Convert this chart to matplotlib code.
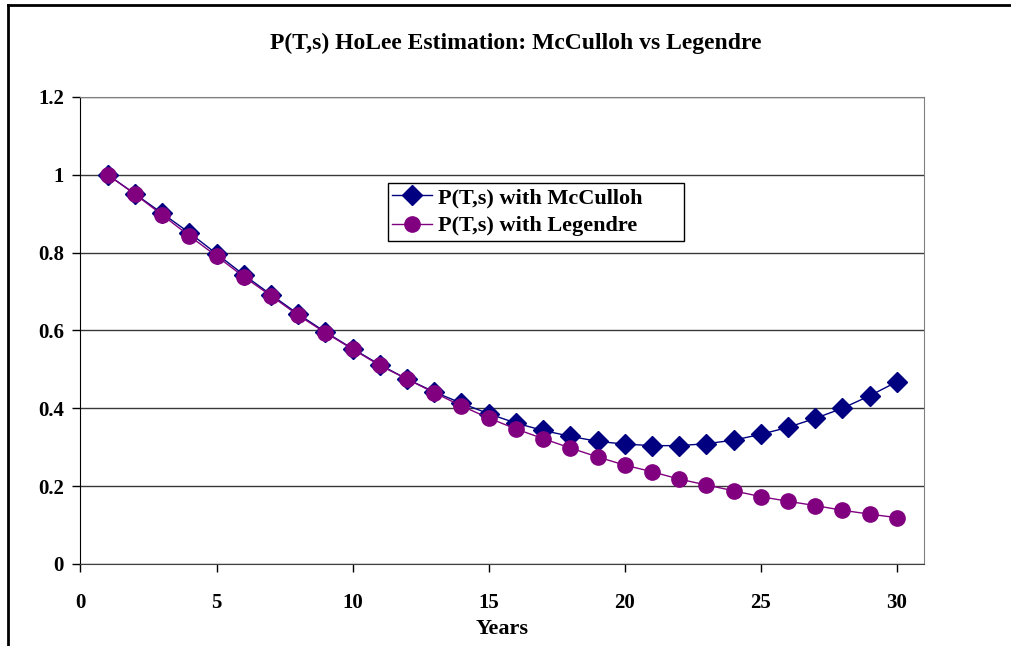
import numpy as np
import matplotlib.pyplot as plt
from matplotlib.lines import Line2D

years = np.arange(1, 31)
mcculloh = [1.000, 0.951, 0.901, 0.851, 0.797, 0.743, 0.692, 0.642, 0.596, 0.553,
            0.512, 0.475, 0.442, 0.413, 0.386, 0.362, 0.343, 0.328, 0.315, 0.308,
            0.304, 0.304, 0.309, 0.318, 0.333, 0.351, 0.374, 0.400, 0.432, 0.468]
legendre = [1.000, 0.950, 0.897, 0.843, 0.791, 0.738, 0.689, 0.639, 0.594, 0.552,
            0.510, 0.475, 0.440, 0.406, 0.375, 0.347, 0.322, 0.298, 0.275, 0.254,
            0.237, 0.218, 0.203, 0.188, 0.173, 0.161, 0.150, 0.138, 0.128, 0.119]

plt.rcParams["font.family"] = ["Liberation Serif", "DejaVu Serif"]
plt.rcParams["font.weight"] = "bold"

fig = plt.figure(figsize=(10.11, 6.46), dpi=100)
ax = fig.add_axes([0.0796, 0.127, 0.8344, 0.723])

ax.plot(years, mcculloh, color="#000080", lw=1.0, marker="D", ms=10,
        label="P(T,s) with McCulloh", zorder=3)
ax.plot(years, legendre, color="#800080", lw=1.0, marker="o", ms=11,
        label="P(T,s) with Legendre", zorder=4)

ax.set_xlim(0, 31)
ax.set_ylim(0, 1.2)
ax.set_xticks([0, 5, 10, 15, 20, 25, 30])
ax.set_yticks([0, 0.2, 0.4, 0.6, 0.8, 1.0, 1.2])
ax.set_yticklabels(["0", "0.2", "0.4", "0.6", "0.8", "1", "1.2"])
ax.tick_params(labelsize=15, length=6, width=1, direction="out")
ax.tick_params(axis="x", pad=15)
ax.tick_params(axis="y", pad=6)
for lab in ax.get_xticklabels() + ax.get_yticklabels():
    lab.set_fontweight("bold")

ax.grid(axis="y", color="#383838", lw=1)
ax.set_axisbelow(True)
ax.spines["left"].set_color("black")
for s in ["top", "right"]:
    ax.spines[s].set_color("#808080")
ax.spines["bottom"].set_color("#404040")

ax.set_xlabel("Years", fontsize=16, fontweight="bold", labelpad=4)
fig.text(0.510, 0.933, "P(T,s) HoLee Estimation: McCulloh vs Legendre",
         ha="center", va="center", fontsize=17, fontweight="bold")

leg_x0, leg_y1 = 388 / 1011, 1 - 183 / 646
leg_w, leg_h = 296 / 1011, 60 / 646
leg = ax.legend(loc="upper left", mode="expand",
                bbox_to_anchor=(leg_x0, leg_y1 - leg_h, leg_w, leg_h),
                bbox_transform=fig.transFigure, frameon=True, fancybox=False,
                edgecolor="black", framealpha=1, fontsize=16, handlelength=1.8,
                handletextpad=0.25, borderpad=0.2, labelspacing=0.35,
                borderaxespad=0)
leg.get_frame().set_linewidth(1)
for t in leg.get_texts():
    t.set_fontweight("bold")

# outer chart border (left and top only)
fig.add_artist(Line2D([0.0075, 0.0075], [0, 0.992], transform=fig.transFigure,
                      color="black", lw=2))
fig.add_artist(Line2D([0.0075, 1], [0.992, 0.992], transform=fig.transFigure,
                      color="black", lw=2))

fig.savefig("out.png", dpi=100)
